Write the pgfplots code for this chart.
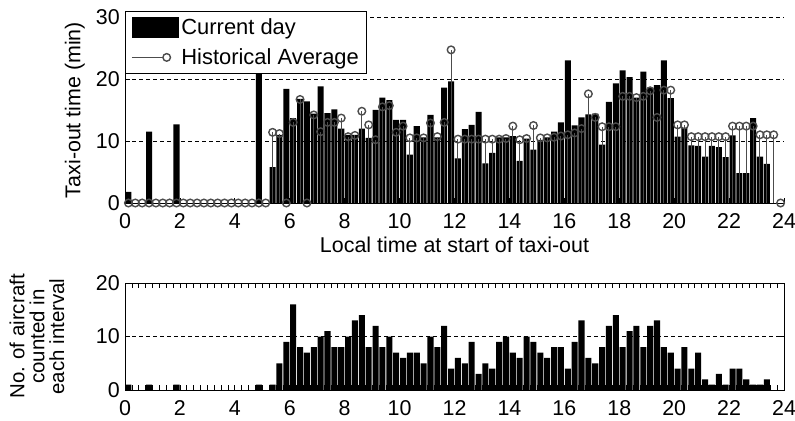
\documentclass[border=0pt]{standalone}
\usepackage{fontspec}
\setmainfont{Liberation Sans}
\usepackage{pgfplots}
\usepackage{pgfplotstable}
\pgfplotsset{compat=1.18}

% k = 15-min interval index, cur = current day taxi-out (min),
% hist = historical average (min), cnt = aircraft counted
\pgfplotstableread{
k cur hist cnt
0 1.8 0 1
1 0 0 0
2 0 0 0
3 11.5 0 1
4 0 0 0
5 0 0 0
6 0 0 0
7 12.7 0 1
8 0 0 0
9 0 0 0
10 0 0 0
11 0 0 0
12 0 0 0
13 0 0 0
14 0 0 0
15 0 0 0
16 0 0 0
17 0 0 0
18 0 0 0
19 20.8 0 1
20 0 0 0
21 5.8 11.4 1
22 11.0 11.2 5
23 18.4 0 9
24 13.7 13.0 16
25 16.8 16.7 8
26 16.4 0 7
27 14.4 14.2 8
28 18.8 11.5 10
29 14.5 13.0 11
30 15.1 13.0 8
31 12.0 13.7 8
32 11.0 10.7 10
33 11.0 10.9 13
34 12.0 14.8 14
35 10.5 12.6 8
36 15.0 10.2 12
37 17.0 15.5 8
38 16.6 15.7 10
39 13.4 11.4 7
40 13.4 12.4 6
41 7.8 10.5 7
42 12.4 10.5 7
43 10.6 10.5 5
44 14.2 12.9 10
45 10.6 10.7 8
46 18.6 13.0 12
47 19.6 24.7 4
48 7.2 10.3 6
49 11.9 10.3 5
50 12.6 10.3 9
51 14.7 10.3 3
52 6.4 10.3 5
53 8.1 10.3 4
54 10.6 10.3 9
55 10.6 10.4 10
56 10.8 12.4 7
57 6.8 10.2 6
58 10.4 10.4 10
59 8.6 12.5 9
60 10.2 10.5 7
61 10.6 10.5 6
62 11.5 10.6 8
63 13.0 10.8 8
64 23.0 11.0 4
65 12.5 11.3 9
66 13.8 12.0 13
67 14.3 17.6 6
68 14.4 13.8 5
69 9.4 12.3 8
70 16.3 12.3 12
71 19.3 12.3 14
72 21.4 17.2 8
73 20.3 17.2 11
74 17.0 17.0 12
75 21.2 17.2 8
76 18.6 18.1 12
77 19.0 13.8 13
78 23.0 18.2 8
79 16.9 18.2 7
80 10.7 12.6 4
81 12.1 12.6 8
82 9.3 10.7 4
83 9.2 10.7 7
84 7.5 10.7 2
85 9.2 10.7 1
86 9.0 10.7 3
87 7.4 10.7 1
88 10.9 12.4 4
89 4.8 12.4 4
90 4.8 12.4 2
91 13.7 12.4 1
92 7.5 11.0 1
93 6.3 11.0 2
94 0 11.0 0
95 0 0 0
}\taxidata

\begin{document}
\begin{tikzpicture}[x=1bp,y=1bp]
\useasboundingbox (0,0) rectangle (795,420);
\pgfplotsset{
  every axis/.append style={
    scale only axis, width=659bp,
    xmin=0, xmax=24,
    xtick={0,2,...,24},
    tick align=inside,
    major tick length=5bp,
    axis line style={line width=0.9bp},
    every tick/.style={black, line width=0.7bp},
    tick label style={font=\fontsize{21.5}{24}\selectfont},
    label style={font=\fontsize{21.5}{24}\selectfont},
    /pgf/number format/assume math mode=true,
    xticklabel style={anchor=base, yshift=-25bp},
    yticklabel style={anchor=east, inner sep=0pt, xshift=-5bp},
    ymajorgrids,
    grid style={black, line width=0.6bp, dash pattern=on 4bp off 3bp},
  }
}

% top panel: taxi-out times
\begin{axis}[
  at={(125bp,217bp)}, anchor=south west,
  height=186bp,
  ymin=0, ymax=30,
  ytick={0,10,20,30},
  axis x line*=bottom, axis y line*=left,
  xlabel={Local time at start of taxi-out},
  xlabel style={at={(axis description cs:0.5,0)}, anchor=base, yshift=-49bp},
  ylabel={Taxi-out time (min)},
  ylabel style={at={(axis description cs:-0.076,0.5)}, anchor=center},
  legend style={at={(0,1)}, anchor=north west, yshift=6bp,
    draw=black, line width=0.8bp, fill=white,
    inner xsep=6bp, inner ysep=3bp, row sep=4bp,
    font=\fontsize{22}{26}\selectfont,
    nodes={inner sep=2bp, minimum height=26bp}},
  legend cell align=left,
]
\addplot[ybar, bar width=0.22, fill=black, draw=none,
  legend image code/.code={\fill[black] (0bp,-10.5bp) rectangle (47bp,10.5bp);}]
  table[x expr=\thisrow{k}/4+0.125, y=cur] {\taxidata};
\addplot[ycomb, draw=black!70, line width=1bp,
  mark=o, mark size=3.8bp, mark options={draw=black!70, line width=1.4bp},
  legend image code/.code={
    \draw[black!70, line width=1bp] (0bp,0bp) -- (31bp,0bp);
    \draw[black!70, line width=1.4bp] (34.8bp,0bp) circle (3.8bp);
    \path (47bp,0bp);}]
  table[x expr=\thisrow{k}/4+0.125, y=hist] {\taxidata};
\legend{Current day, Historical Average}
\end{axis}

% bottom panel: aircraft counts
\begin{axis}[
  at={(125bp,30bp)}, anchor=south west,
  height=107bp,
  ymin=0, ymax=20,
  ytick={0,10,20},
  minor xtick={0,0.25,...,24},
  minor tick length=5bp,
  ylabel={No. of aircraft\\counted in\\each interval},
  ylabel style={at={(axis description cs:-0.1335,0.5)}, anchor=center,
    align=center, font=\fontsize{20.5}{20}\selectfont},
]
\addplot[ybar, bar width=0.22, fill=black, draw=none]
  table[x expr=\thisrow{k}/4+0.125, y=cnt] {\taxidata};
\end{axis}
\end{tikzpicture}
\end{document}
